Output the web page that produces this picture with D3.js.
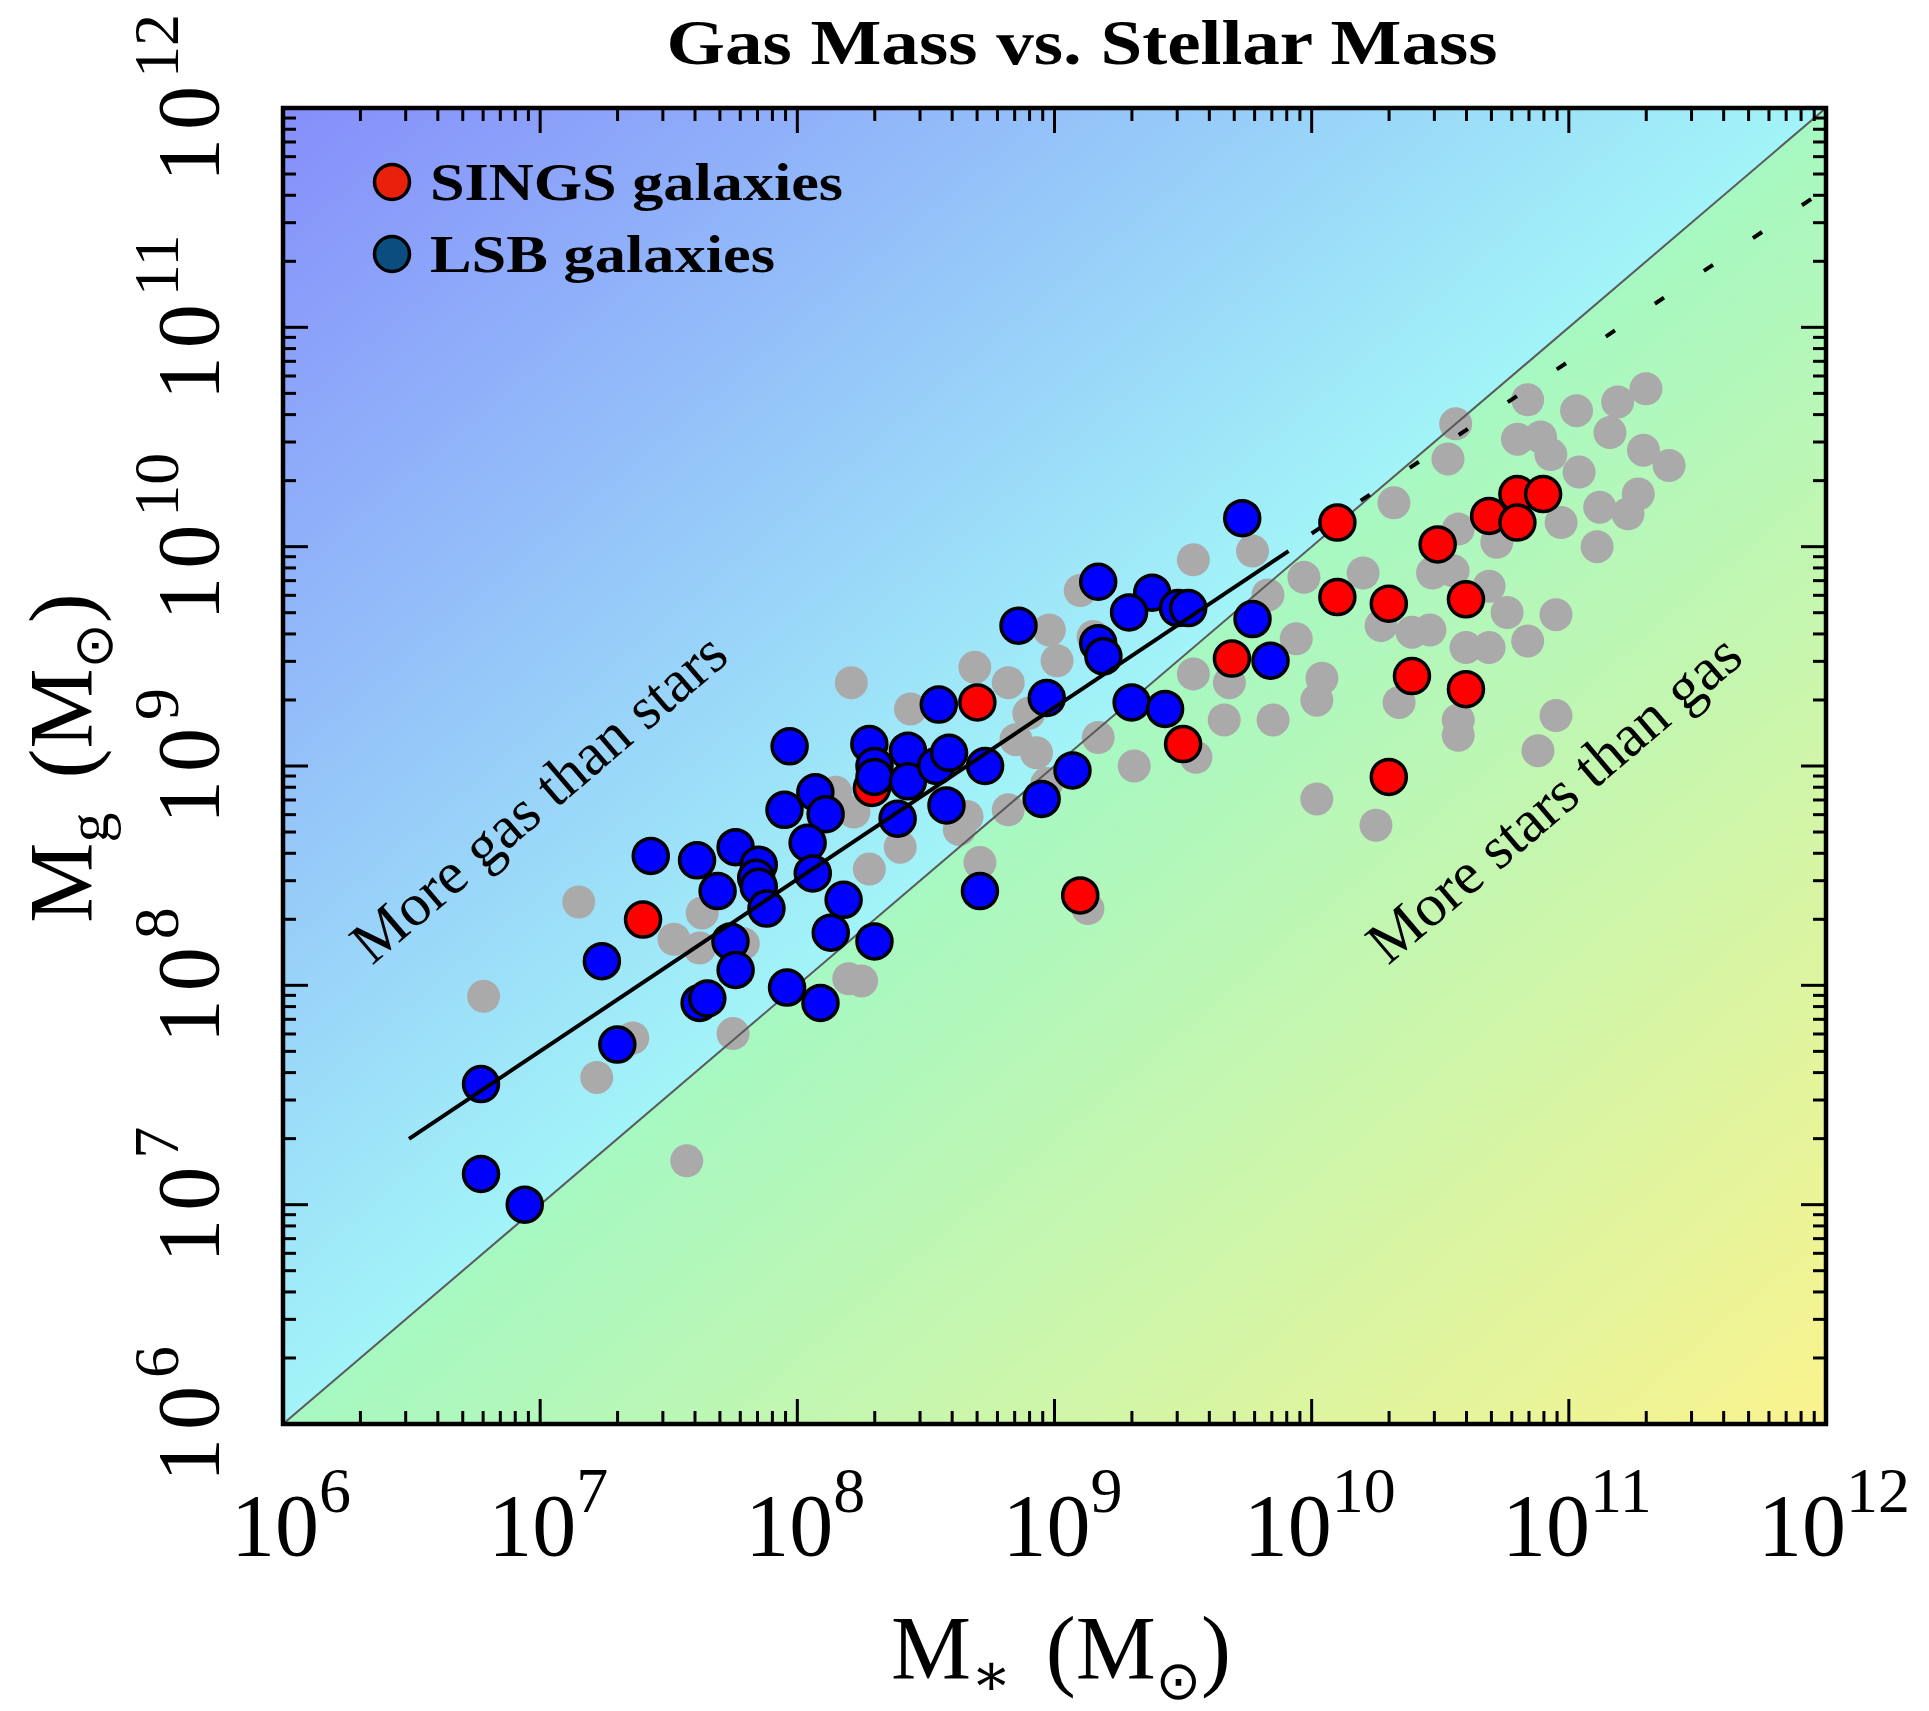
<!DOCTYPE html>
<html>
<head>
<meta charset="utf-8">
<script src="https://cdn.jsdelivr.net/npm/d3@7"></script>
<style>
body { margin: 0; background: #fff; }
text { font-family: "Liberation Serif", "DejaVu Serif", serif; fill: #000; }
</style>
</head>
<body>
<div id="chart"></div>
<script>
// all masses are log10(M / Msun)
var singsLogMstar = [7.40, 8.29, 8.70, 9.10, 9.50, 9.69, 10.10, 10.49, 10.69, 10.80, 10.90, 10.80, 10.10, 10.30, 10.60, 10.39, 10.60, 10.30];
var singsLogMgas  = [8.30, 8.90, 9.29, 8.41, 9.10, 9.49, 10.11, 10.01, 10.14, 10.24, 10.24, 10.11, 9.77, 9.74, 9.76, 9.41, 9.35, 8.95];

var lsbLogMstar = [6.77, 6.77, 6.94, 7.24, 7.30, 7.43, 7.61, 7.76, 7.85, 7.84, 7.85, 7.69, 7.88, 7.74, 7.76, 7.96, 7.62, 7.65, 8.09, 8.13,
                   8.18, 8.30, 7.97, 8.07, 7.95, 8.11, 8.04, 8.06, 8.28, 8.30, 8.30, 8.43, 8.43, 8.54, 8.59, 8.73, 8.58, 8.39, 8.55, 8.71,
                   8.86, 8.97, 8.95, 9.07, 9.17, 9.38, 9.29, 9.48, 9.52, 9.17, 9.19, 9.30, 9.43, 9.73, 9.77, 9.84];
var lsbLogMgas  = [7.55, 7.14, 7.00, 8.11, 7.73, 8.59, 8.57, 8.63, 8.55, 8.49, 8.45, 8.43, 8.35, 8.20, 8.07, 7.99, 7.92, 7.94, 7.92, 8.24,
                   8.39, 8.20, 9.09, 8.88, 8.80, 8.78, 8.65, 8.51, 9.10, 9.00, 8.95, 9.07, 8.93, 9.00, 9.06, 9.00, 8.82, 8.76, 9.28, 8.43,
                   9.64, 9.31, 8.85, 8.98, 9.84, 9.79, 9.70, 9.72, 9.72, 9.56, 9.50, 9.29, 9.26, 10.13, 9.67, 9.48];

var otherLogMstar = [7.15, 6.78, 7.36, 7.22, 7.75, 7.57, 7.52, 7.62, 7.63, 7.79, 8.20, 8.71, 8.40, 8.63, 8.82, 9.31, 8.25, 8.28, 9.13, 8.21,
                     8.69, 8.82, 8.44, 8.22, 8.15, 8.66, 8.98, 9.01, 8.90, 8.93, 9.54, 9.77, 9.97, 9.83, 9.94, 9.54, 9.68, 9.66, 9.85, 10.02,
                     9.17, 9.15, 10.02, 9.10, 8.97, 8.85, 9.55, 10.56, 10.84, 11.03, 11.30, 11.19, 11.16, 10.80, 10.89, 10.93, 11.04, 11.29, 11.39, 11.27,
                     11.12, 11.23, 10.97, 11.11, 10.72, 10.53, 10.32, 10.57, 10.47, 10.55, 10.69, 10.76, 10.95, 10.84, 10.69, 10.60, 10.46, 10.39, 10.27, 10.20,
                     10.04, 10.34, 10.57, 10.57, 10.95, 10.88, 10.25];
var otherLogMgas  = [8.38, 7.95, 7.76, 7.58, 7.78, 7.20, 8.21, 8.17, 8.33, 8.19, 8.03, 8.56, 8.63, 8.71, 8.80, 9.00, 8.02, 8.53, 8.35, 9.38,
                     9.45, 9.38, 9.26, 8.79, 8.88, 8.77, 9.62, 9.48, 9.24, 9.06, 9.94, 9.98, 9.86, 9.78, 9.58, 9.42, 9.38, 9.21, 9.21, 8.85,
                     9.13, 9.59, 9.30, 9.80, 8.92, 9.12, 9.04, 10.56, 10.67, 10.62, 10.72, 10.66, 10.52, 10.49, 10.50, 10.42, 10.34, 10.44, 10.37, 10.24,
                     10.18, 10.15, 10.11, 10.00, 10.02, 10.40, 10.20, 10.08, 9.88, 9.89, 9.82, 9.70, 9.69, 9.57, 9.54, 9.54, 9.62, 9.61, 9.64, 9.88,
                     9.40, 9.29, 9.21, 9.14, 9.23, 9.07, 8.73];

// fitted relation: solid over the fitted range, dashed extrapolation
var fitLogMstar = [6.49, 9.91];
var fitLogMgas  = [7.30, 9.98];
var extLogMstar = [10.00, 12.00];
var extLogMgas  = [10.06, 11.63];

var decades = [6, 7, 8, 9, 10, 11, 12];

var width = 1929, height = 1711;
var margin = {top: 108, right: 103, bottom: 287, left: 283};

var svg = d3.select("#chart").append("svg")
    .attr("width", width)
    .attr("height", height);

var x = d3.scaleLog().domain([1e6, 1e12]).range([margin.left, width - margin.right]);
var y = d3.scaleLog().domain([1e6, 1e12]).range([height - margin.bottom, margin.top]);

var x0 = x.range()[0], x1 = x.range()[1], y0 = y.range()[1], y1 = y.range()[0];

// background: two gradients split along the 1:1 line
var defs = svg.append("defs");
var ddx = x1 - x0, ddy = y1 - y0;
var dlen = Math.sqrt(ddx * ddx + ddy * ddy);
var nx = ddy / dlen, ny = ddx / dlen;
var dist = ((x0 + x1) / 2 - x0) * nx + ((y0 + y1) / 2 - y0) * ny;

function addGradient(id, ax, ay, bx, by, c0, c1) {
  var g = defs.append("linearGradient").attr("id", id)
      .attr("gradientUnits", "userSpaceOnUse")
      .attr("x1", ax).attr("y1", ay).attr("x2", bx).attr("y2", by);
  g.append("stop").attr("offset", 0).attr("stop-color", c0);
  g.append("stop").attr("offset", 1).attr("stop-color", c1);
}
addGradient("gradUp", x0, y0, x0 + dist * nx, y0 + dist * ny, "#868efa", "#a2f4f8");
addGradient("gradDown", x1 - dist * nx, y1 - dist * ny, x1, y1, "#a6f8c2", "#faf38e");

svg.append("polygon")
    .attr("points", [[x0, y0], [x1, y0], [x0, y1]].join(" "))
    .attr("fill", "url(#gradUp)");
svg.append("polygon")
    .attr("points", [[x1, y0], [x1, y1], [x0, y1]].join(" "))
    .attr("fill", "url(#gradDown)");

function pts(ms, mg) {
  return ms.map(function(d, i) { return [Math.pow(10, d), Math.pow(10, mg[i])]; });
}

// comparison sample
svg.append("g").selectAll("circle")
    .data(pts(otherLogMstar, otherLogMgas))
    .enter().append("circle")
    .attr("cx", function(d) { return x(d[0]); })
    .attr("cy", function(d) { return y(d[1]); })
    .attr("r", 16.5)
    .attr("fill", "#aaaaaa");

// 1:1 line
svg.append("line")
    .attr("x1", x(1e6)).attr("y1", y(1e6))
    .attr("x2", x(1e12)).attr("y2", y(1e12))
    .attr("stroke", "#5a5a5a")
    .attr("stroke-width", 2);

svg.append("g").selectAll("circle")
    .data(pts(singsLogMstar, singsLogMgas))
    .enter().append("circle")
    .attr("cx", function(d) { return x(d[0]); })
    .attr("cy", function(d) { return y(d[1]); })
    .attr("r", 17.5)
    .attr("fill", "#ff0000")
    .attr("stroke", "#000")
    .attr("stroke-width", 3.5);

svg.append("g").selectAll("circle")
    .data(pts(lsbLogMstar, lsbLogMgas))
    .enter().append("circle")
    .attr("cx", function(d) { return x(d[0]); })
    .attr("cy", function(d) { return y(d[1]); })
    .attr("r", 17.5)
    .attr("fill", "#0000ff")
    .attr("stroke", "#000")
    .attr("stroke-width", 3.5);

var line = d3.line()
    .x(function(d) { return x(d[0]); })
    .y(function(d) { return y(d[1]); });

svg.append("path")
    .datum(pts(fitLogMstar, fitLogMgas))
    .attr("d", line)
    .attr("fill", "none")
    .attr("stroke", "#000")
    .attr("stroke-width", 4);

svg.append("path")
    .datum(pts(extLogMstar, extLogMgas))
    .attr("d", line)
    .attr("fill", "none")
    .attr("stroke", "#000")
    .attr("stroke-width", 4)
    .attr("stroke-dasharray", "11,48");

// region labels
var ang = -Math.atan2(y1 - y0, x1 - x0) * 180 / Math.PI;
svg.append("text")
    .attr("transform", "translate(372,966) rotate(" + ang + ")")
    .attr("textLength", 472)
    .attr("lengthAdjust", "spacingAndGlyphs")
    .style("font-size", "60px")
    .text("More gas than stars");
svg.append("text")
    .attr("transform", "translate(1388,966) rotate(" + ang + ")")
    .attr("textLength", 470)
    .attr("lengthAdjust", "spacingAndGlyphs")
    .style("font-size", "60px")
    .text("More stars than gas");

// ticks on all four sides, pointing inward
var ticks = x.ticks();
function isMajor(d) { var l = Math.log10(d); return Math.abs(l - Math.round(l)) < 1e-6; }
function tlen(d) { return isMajor(d) ? 25 : 13; }

var tg = svg.append("g").attr("stroke", "#000").attr("stroke-width", 3);
ticks.forEach(function(d) {
  tg.append("line").attr("x1", x(d)).attr("x2", x(d)).attr("y1", y1).attr("y2", y1 - tlen(d));
  tg.append("line").attr("x1", x(d)).attr("x2", x(d)).attr("y1", y0).attr("y2", y0 + tlen(d));
});
y.ticks().forEach(function(d) {
  tg.append("line").attr("y1", y(d)).attr("y2", y(d)).attr("x1", x0).attr("x2", x0 + tlen(d));
  tg.append("line").attr("y1", y(d)).attr("y2", y(d)).attr("x1", x1).attr("x2", x1 - tlen(d));
});

svg.append("rect")
    .attr("x", x0).attr("y", y0)
    .attr("width", x1 - x0).attr("height", y1 - y0)
    .attr("fill", "none")
    .attr("stroke", "#000")
    .attr("stroke-width", 4.5);

// tick labels
svg.append("g").selectAll("text")
    .data(decades)
    .enter().append("text")
    .attr("x", function(d) { return x(Math.pow(10, d)) + 8; })
    .attr("y", 1555)
    .attr("text-anchor", "middle")
    .style("font-size", "88px")
    .each(function(d) {
      var t = d3.select(this);
      t.append("tspan").text("10");
      t.append("tspan").attr("dy", -43).style("font-size", "64px").text(d);
    });

svg.append("g").selectAll("text")
    .data(decades)
    .enter().append("text")
    .attr("transform", function(d) { return "translate(218," + (y(Math.pow(10, d)) - 10) + ") rotate(-90)"; })
    .attr("text-anchor", "middle")
    .style("font-size", "88px")
    .each(function(d) {
      var t = d3.select(this);
      t.append("tspan").style("letter-spacing", "8px").text("10");
      t.append("tspan").attr("dy", -40).style("font-size", "64px").text(d);
    });

// axis titles
function massTitle(sel, sub) {
  sel.append("tspan").text("M");
  sel.append("tspan").attr("dy", 16).style("font-size", "60px").text(sub);
  sel.append("tspan").attr("dy", -16).attr("dx", 34).text("(M");
  sel.append("tspan").attr("dy", 20).style("font-size", "54px")
      .style("font-family", "DejaVu Sans").text("\u2299");
  sel.append("tspan").attr("dy", -20).text(")");
}
massTitle(svg.append("text")
    .attr("x", 1061).attr("y", 1679)
    .attr("text-anchor", "middle")
    .style("font-size", "90px"), "\u2217");
massTitle(svg.append("text")
    .attr("transform", "translate(92,758) rotate(-90)")
    .attr("text-anchor", "middle")
    .style("font-size", "90px"), "g");

// title
svg.append("text")
    .attr("x", 1082).attr("y", 64)
    .attr("text-anchor", "middle")
    .attr("textLength", 831)
    .attr("lengthAdjust", "spacingAndGlyphs")
    .style("font-size", "64px")
    .style("font-weight", "bold")
    .text("Gas Mass vs. Stellar Mass");

// legend
var legend = [["SINGS galaxies", "#e8200c", 413], ["LSB galaxies", "#0b4d7e", 345]];
legend.forEach(function(d, i) {
  svg.append("circle")
      .attr("cx", 392).attr("cy", 182 + i * 72)
      .attr("r", 17.5)
      .attr("fill", d[1])
      .attr("stroke", "#000")
      .attr("stroke-width", 3.5);
  svg.append("text")
      .attr("x", 430).attr("y", 200 + i * 72)
      .attr("textLength", d[2])
      .attr("lengthAdjust", "spacingAndGlyphs")
      .style("font-size", "53px")
      .style("font-weight", "bold")
      .text(d[0]);
});
</script>
</body>
</html>
